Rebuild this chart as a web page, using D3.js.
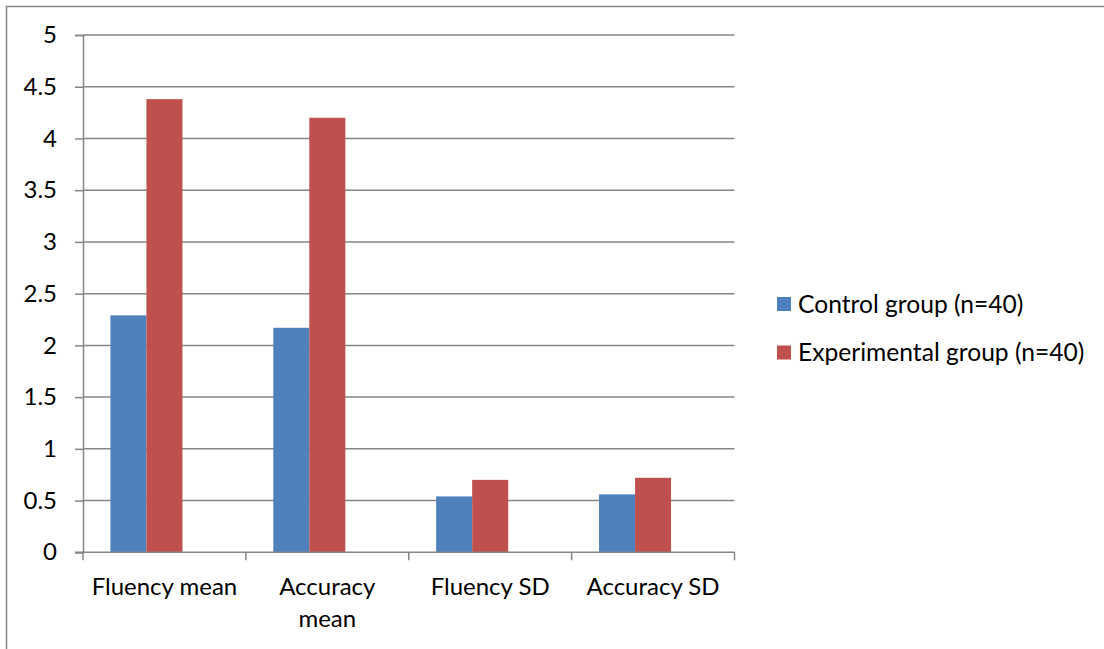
<!DOCTYPE html>
<html>
<head>
<meta charset="utf-8">
<script src="https://cdn.jsdelivr.net/npm/d3@7"></script>
<style>
  html, body { margin: 0; padding: 0; background: #fff; }
  svg { display: block; }
  text { font-family: "Lato", "Liberation Sans", sans-serif; fill: #000; }
</style>
</head>
<body>
<svg id="chart" width="1104" height="649"></svg>
<script>
// ---- Data ----
const categories = ["Fluency mean", "Accuracy mean", "Fluency SD", "Accuracy SD"];
const seriesNames = ["Control group (n=40)", "Experimental group (n=40)"];
const controlValues = [2.29, 2.17, 0.54, 0.56];
const experimentalValues = [4.38, 4.20, 0.70, 0.72];
const yTicks = [0, 0.5, 1, 1.5, 2, 2.5, 3, 3.5, 4, 4.5, 5];
const seriesColors = ["#4F81BD", "#C0504D"];

const seriesValues = [controlValues, experimentalValues];

const W = 1104, H = 649;
const plot = { left: 83, right: 734.5, top: 35, bottom: 552.3 };

const svg = d3.select("#chart");

// outer chart-area border (only top and left visible in the crop)
svg.append("path")
  .attr("d", `M6.5,${H} V6.5 H${W}`)
  .attr("fill", "none")
  .attr("stroke", "#868686")
  .attr("stroke-width", 1.5);

const y = d3.scaleLinear().domain([0, 5]).range([plot.bottom, plot.top]);
const x = d3.scaleBand().domain(categories).range([plot.left, plot.right]).padding(0);
// three slots per category (the chart reserves room for a third, empty series)
const xs = d3.scaleBand().domain([0, 1, 2]).range([0, x.bandwidth()])
  .paddingInner(0).paddingOuter(0.761);

// gridlines
svg.append("g")
  .selectAll("line")
  .data(yTicks.filter(d => d > 0))
  .join("line")
  .attr("x1", plot.left).attr("x2", plot.right)
  .attr("y1", d => y(d)).attr("y2", d => y(d))
  .attr("stroke", "#868686").attr("stroke-width", 1.5);

// y axis
const yAxis = d3.axisLeft(y).tickValues(yTicks).tickSize(8).tickPadding(18)
  .tickFormat(d => String(d));
const gy = svg.append("g").attr("transform", `translate(${plot.left},0)`).call(yAxis);
gy.select(".domain").attr("stroke", "#868686").attr("stroke-width", 1.5);
gy.selectAll(".tick line").attr("stroke", "#868686").attr("stroke-width", 1.5);
gy.selectAll(".tick text").style("font-size", "24px").attr("fill", "#000")
  .style("font-family", '"Lato", "Liberation Sans", sans-serif');

// bars
categories.forEach((c, i) => {
  seriesValues.forEach((vals, s) => {
    svg.append("rect")
      .attr("x", x(c) + xs(s))
      .attr("y", y(vals[i]))
      .attr("width", xs.bandwidth())
      .attr("height", y(0) - y(vals[i]))
      .attr("fill", seriesColors[s]);
  });
});

// x axis
const gx = svg.append("g").attr("transform", `translate(0,${plot.bottom})`);
gx.append("line").attr("x1", plot.left - 8).attr("x2", plot.right)
  .attr("y1", 0).attr("y2", 0).attr("stroke", "#868686").attr("stroke-width", 1.5);
const bounds = categories.map(c => x(c)).concat([x(categories[categories.length - 1]) + x.bandwidth()]);
gx.selectAll(".xt").data(bounds).join("line").attr("class", "xt")
  .attr("x1", d => d).attr("x2", d => d).attr("y1", 0).attr("y2", 8)
  .attr("stroke", "#868686").attr("stroke-width", 1.5);

// category labels (wrap like the original)
const labelLines = { "Accuracy mean": ["Accuracy", "mean"] };
categories.forEach(c => {
  const lines = labelLines[c] || [c];
  const t = gx.append("text")
    .attr("x", x(c) + x.bandwidth() / 2)
    .attr("y", 43)
    .attr("text-anchor", "middle")
    .style("font-size", "24px");
  lines.forEach((l, k) => {
    t.append("tspan").attr("x", x(c) + x.bandwidth() / 2).attr("dy", k === 0 ? 0 : 32).text(l);
  });
});

// legend
const lg = svg.append("g").attr("transform", "translate(777,297)");
seriesNames.forEach((n, s) => {
  const row = lg.append("g").attr("transform", `translate(0,${s * 48.5})`);
  row.append("rect").attr("width", 14).attr("height", 14).attr("fill", seriesColors[s]);
  row.append("text").attr("x", 21).attr("y", 7).attr("dy", "0.35em")
    .style("font-size", "24.6px").text(n);
});
</script>
</body>
</html>
